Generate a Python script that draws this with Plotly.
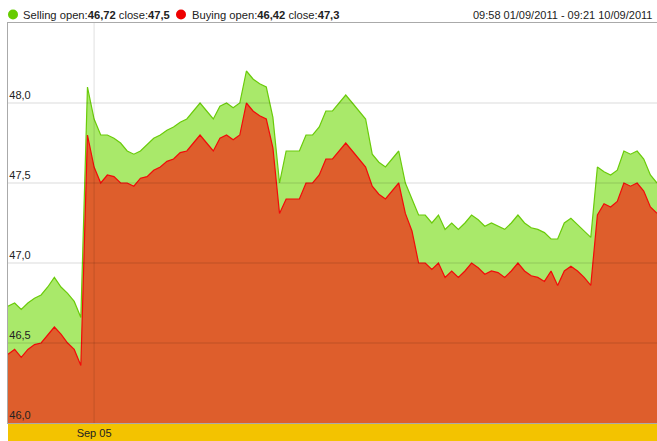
import plotly.graph_objects as go

# ---------------- data ----------------
selling = [46.73, 46.75, 46.71, 46.75, 46.78, 46.80, 46.85, 46.91, 46.85, 46.81,
           46.76, 46.66, 48.10, 47.90, 47.80, 47.80, 47.78, 47.75, 47.70, 47.68,
           47.70, 47.74, 47.78, 47.80, 47.83, 47.85, 47.88, 47.90, 47.95, 48.00,
           47.95, 47.90, 47.98, 48.00, 47.97, 48.00, 48.20, 48.15, 48.12, 48.10,
           47.91, 47.50, 47.70, 47.70, 47.70, 47.80, 47.80, 47.85, 47.95, 47.95,
           48.00, 48.05, 48.00, 47.95, 47.90, 47.68, 47.63, 47.60, 47.65, 47.70,
           47.50, 47.40, 47.30, 47.30, 47.25, 47.30, 47.21, 47.25, 47.21, 47.25,
           47.30, 47.27, 47.23, 47.25, 47.23, 47.21, 47.25, 47.30, 47.25, 47.22,
           47.21, 47.19, 47.15, 47.15, 47.25, 47.28, 47.24, 47.20, 47.16, 47.60,
           47.57, 47.55, 47.58, 47.70, 47.68, 47.70, 47.65, 47.55, 47.50]

buying = [46.43, 46.46, 46.41, 46.46, 46.49, 46.50, 46.55, 46.60, 46.555, 46.50,
          46.46, 46.36, 47.80, 47.60, 47.50, 47.55, 47.54, 47.50, 47.50, 47.48,
          47.53, 47.54, 47.58, 47.60, 47.635, 47.65, 47.69, 47.70, 47.75, 47.80,
          47.75, 47.70, 47.78, 47.80, 47.77, 47.80, 48.00, 47.95, 47.92, 47.90,
          47.72, 47.31, 47.40, 47.40, 47.40, 47.50, 47.50, 47.55, 47.65, 47.65,
          47.70, 47.75, 47.70, 47.65, 47.60, 47.48, 47.43, 47.40, 47.45, 47.50,
          47.31, 47.20, 47.00, 47.00, 46.96, 47.00, 46.91, 46.95, 46.91, 46.95,
          47.00, 46.97, 46.93, 46.95, 46.94, 46.91, 46.95, 47.00, 46.95, 46.92,
          46.91, 46.885, 46.95, 46.86, 46.95, 46.98, 46.95, 46.91, 46.86, 47.30,
          47.37, 47.35, 47.385, 47.50, 47.48, 47.50, 47.45, 47.35, 47.31]

x_idx = list(range(len(selling)))

x_tick_vals = [13]
x_tick_text = ["Sep 05"]
y_tick_vals = [46.0, 46.5, 47.0, 47.5, 48.0]

sell_open, sell_close = "46,72", "47,5"
buy_open, buy_close = "46,42", "47,3"
period_text = "09:58 01/09/2011 - 09:21 10/09/2011"

# ---------------- figure ----------------
FONT = "Liberation Sans, Arial, sans-serif"
W, H = 657, 441
ML, MR, MT, MB = 8, 0, 23, 18

fig = go.Figure()
fig.add_trace(go.Scatter(
    x=x_idx, y=selling, mode="lines", fill="tozeroy",
    line=dict(color="#6ACB0A", width=1.2), fillcolor="#A9E96A",
    hoverinfo="skip", showlegend=False))
fig.add_trace(go.Scatter(
    x=x_idx, y=buying, mode="lines", fill="tozeroy",
    line=dict(color="#F20A0A", width=1.2), fillcolor="#DE5E2C",
    hoverinfo="skip", showlegend=False))

shapes = []
# grid lines drawn above the areas, semi-transparent
for v in y_tick_vals[1:]:
    shapes.append(dict(type="line", xref="paper", yref="y", x0=0, x1=1, y0=v, y1=v,
                       line=dict(color="rgba(0,0,0,0.14)", width=1), layer="above"))
for v in x_tick_vals:
    shapes.append(dict(type="line", xref="x", yref="paper", x0=v, x1=v, y0=0, y1=1,
                       line=dict(color="rgba(0,0,0,0.12)", width=1), layer="above"))
# yellow band under plot
shapes.append(dict(type="rect", xref="paper", yref="paper", x0=0, x1=1,
                   y0=-MB / (H - MT - MB), y1=0, fillcolor="#F3C300",
                   line=dict(width=0), layer="below"))
# legend circles
shapes.append(dict(type="circle", xref="paper", yref="paper", xsizemode="pixel",
                   ysizemode="pixel", xanchor=0, yanchor=1,
                   x0=0, x1=10, y0=3.5, y1=13.5,
                   fillcolor="#66CC00", line=dict(width=0)))
shapes.append(dict(type="circle", xref="paper", yref="paper", xsizemode="pixel",
                   ysizemode="pixel", xanchor=0, yanchor=1,
                   x0=168, x1=178, y0=3.5, y1=13.5,
                   fillcolor="#EE0000", line=dict(width=0)))

annotations = [
    dict(xref="paper", yref="paper", x=0, y=1, xanchor="left", yanchor="middle",
         xshift=13, yshift=8.5, showarrow=False,
         text=f"Selling open:<b>{sell_open}</b> close:<b>{sell_close}</b>",
         font=dict(family=FONT, size=11.2, color="#222")),
    dict(xref="paper", yref="paper", x=0, y=1, xanchor="left", yanchor="middle",
         xshift=182, yshift=8.5, showarrow=False,
         text=f"Buying open:<b>{buy_open}</b> close:<b>{buy_close}</b>",
         font=dict(family=FONT, size=11.2, color="#222")),
    dict(xref="paper", yref="paper", x=1, y=1, xanchor="right", yanchor="middle",
         xshift=-3, yshift=8.5, showarrow=False, text=period_text,
         font=dict(family=FONT, size=11, color="#222")),
]

fig.update_layout(
    width=W, height=H,
    margin=dict(l=ML, r=MR, t=MT, b=MB, pad=0),
    paper_bgcolor="white", plot_bgcolor="white",
    separators=",.",
    shapes=shapes, annotations=annotations,
    font=dict(family=FONT, size=11, color="#222"),
)
fig.update_xaxes(
    range=[0, len(selling) - 1], tickvals=x_tick_vals, ticktext=x_tick_text,
    showgrid=False, zeroline=False, ticks="", ticklen=0,
    showline=True, linecolor="#AAAAAA", linewidth=1, mirror=True,
    tickfont=dict(family=FONT, size=11, color="#222"), fixedrange=True)
fig.update_yaxes(
    range=[46.0, 48.5], tickvals=y_tick_vals, tickformat=".1f",
    ticklabelposition="inside top", showgrid=False, zeroline=False, ticks="",
    showline=True, linecolor="#AAAAAA", linewidth=1,
    tickfont=dict(family=FONT, size=11, color="#222"), fixedrange=True)

fig.write_html("out.html")
